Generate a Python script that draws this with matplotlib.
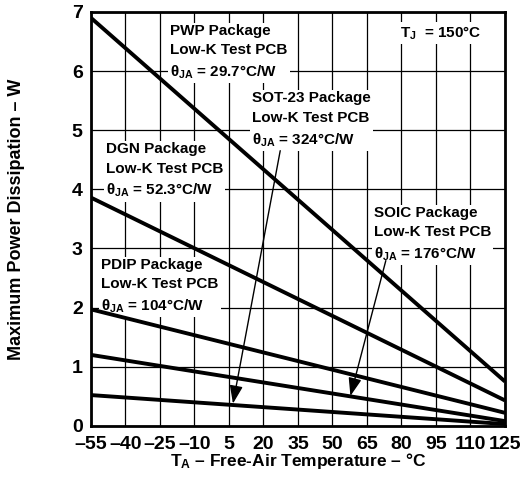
import matplotlib
matplotlib.use("Agg")
import matplotlib.pyplot as plt

plt.rcParams['font.family'] = ['Liberation Sans', 'DejaVu Sans']
plt.rcParams['font.weight'] = 'bold'
plt.rcParams['axes.labelweight'] = 'bold'
plt.rcParams['mathtext.fontset'] = 'custom'
plt.rcParams['mathtext.rm'] = 'Liberation Sans:bold'
plt.rcParams['mathtext.it'] = 'Liberation Sans:bold'
plt.rcParams['mathtext.bf'] = 'Liberation Sans:bold'

# temperature range of every curve (endpoints, straight lines)
temps = [-55, 125]

# derating curves (W)
pwp = [6.9, 0.75]
dgn = [3.86, 0.43]
pdip = [1.97, 0.22]
soic = [1.2, 0.08]
sot23 = [0.52, 0.03]

x_ticks = [-55, -40, -25, -10, 5, 20, 35, 50, 65, 80, 95, 110, 125]
y_ticks = [0, 1, 2, 3, 4, 5, 6, 7]

fig = plt.figure(figsize=(5.26, 4.79), dpi=100)
ax = fig.add_axes([0.173, 0.111, 0.787, 0.864])

ax.set_xlim(-55, 125)
ax.set_ylim(0, 7)
ax.set_xticks(x_ticks)
ax.set_xticklabels(["\u2013" + str(-t) if t < 0 else str(t) for t in x_ticks])
ax.set_yticks(y_ticks)
ax.tick_params(length=0, labelsize=14)
ax.tick_params(axis='x', pad=7)
ax.tick_params(axis='y', pad=6)
ax.grid(True, color='black', linewidth=0.9)
ax.set_axisbelow(True)
for sp in ax.spines.values():
    sp.set_linewidth(2)

for series in [pwp, dgn, pdip, soic, sot23]:
    ax.plot(temps, series, color='black', linewidth=2.8, solid_capstyle='butt', zorder=3)

box = dict(facecolor='white', edgecolor='none', pad=1.5)
fs = 11
ls = 1.5
ax.text(-20.5, 6.8, "PWP Package\nLow-K Test PCB\n" + r"$\theta_{JA}$ = 29.7°C/W",
        fontsize=fs, va='top', ha='left', linespacing=ls, bbox=box, zorder=2)
ax.text(15, 5.66, "SOT-23 Package\nLow-K Test PCB\n" + r"$\theta_{JA}$ = 324°C/W",
        fontsize=fs, va='top', ha='left', linespacing=ls, bbox=box, zorder=2)
ax.text(-48.5, 4.8, "DGN Package\nLow-K Test PCB\n" + r"$\theta_{JA}$ = 52.3°C/W",
        fontsize=fs, va='top', ha='left', linespacing=ls, bbox=box, zorder=2)
ax.text(-50.5, 2.84, "PDIP Package\nLow-K Test PCB\n" + r"$\theta_{JA}$ = 104°C/W",
        fontsize=fs, va='top', ha='left', linespacing=ls, bbox=box, zorder=2)
ax.text(68, 3.72, "SOIC Package\nLow-K Test PCB\n" + r"$\theta_{JA}$ = 176°C/W",
        fontsize=fs, va='top', ha='left', linespacing=ls, bbox=box, zorder=2)
ax.text(79.5, 6.64, r"$T_J$  = 150°C", fontsize=fs, va='center', ha='left', bbox=box, zorder=2)

arrow = dict(arrowstyle='-|>,head_length=1.1,head_width=0.4', color='black', lw=1.0)
ax.annotate("", xy=(6.5, 0.33), xytext=(27.5, 4.7), arrowprops=arrow, zorder=4)
ax.annotate("", xy=(57.5, 0.46), xytext=(73.5, 2.84), arrowprops=arrow, zorder=4)

ax.set_xlabel(r"$T_A$ – Free-Air Temperature – °C", fontsize=12.5, labelpad=-1)
ax.set_ylabel("Maximum Power Dissipation – W", fontsize=13, labelpad=34)

fig.savefig("out.png", dpi=100)
